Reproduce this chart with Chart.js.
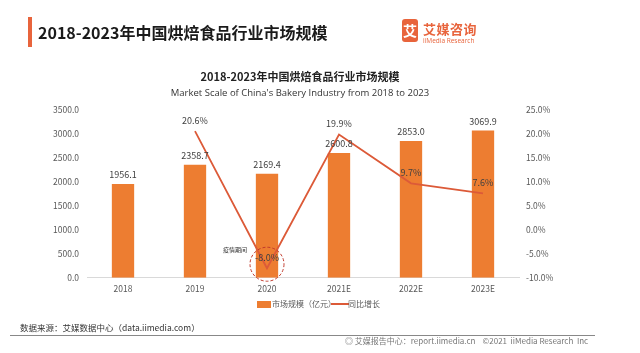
<!DOCTYPE html>
<html><head><meta charset="utf-8">
<script src="https://cdn.jsdelivr.net/npm/chart.js@4.4.1/dist/chart.umd.min.js"></script>
<style>
html,body{margin:0;padding:0;background:#fff;}
#wrap{position:relative;width:640px;height:353px;overflow:hidden;font-family:"Noto Sans CJK SC","Noto Sans",sans-serif;}
#c{position:absolute;left:0;top:0;}
.hbar{position:absolute;left:28px;top:17px;width:4px;height:30px;background:#e8643c;}
.htitle{position:absolute;left:38px;top:20px;font-size:16px;font-weight:bold;color:#1a1a1a;line-height:24px;}
.logo{position:absolute;left:402px;top:19px;width:16px;height:23px;background:#e8643c;border-radius:3px;color:#fff;font-size:14px;font-weight:bold;text-align:center;line-height:23px;}
.logot{position:absolute;left:423px;top:21px;font-size:13px;font-weight:bold;color:#e8643c;line-height:16px;letter-spacing:0.5px;}
.logos{position:absolute;left:423px;top:36px;font-size:6.5px;color:#e8643c;font-family:"Open Sans",sans-serif;}
.ctitle{position:absolute;left:0;width:600px;text-align:center;top:68px;font-size:11px;font-weight:bold;color:#222;}
.csub{position:absolute;left:0;width:600px;text-align:center;top:86px;font-size:9.5px;color:#333;font-family:"Open Sans","Noto Sans",sans-serif;}
.src{position:absolute;left:20px;top:321px;font-size:8.5px;color:#333;}
.fline{position:absolute;left:10px;top:335px;width:585px;height:1px;background:#888;}
.foot{position:absolute;left:345px;top:335px;font-size:8px;color:#777;white-space:nowrap;}
</style></head>
<body><div id="wrap">
<canvas id="c" width="640" height="353"></canvas>
<div class="hbar"></div>
<div class="htitle">2018-2023年中国烘焙食品行业市场规模</div>
<div class="logo">艾</div>
<div class="logot">艾媒咨询</div>
<div class="logos">iiMedia Research</div>
<div class="ctitle">2018-2023年中国烘焙食品行业市场规模</div>
<div class="csub">Market Scale of China's Bakery Industry from 2018 to 2023</div>
<div class="src">数据来源：艾媒数据中心（data.iimedia.com）</div>
<div class="fline"></div>
<div class="foot">◎ 艾媒报告中心：report.iimedia.cn &nbsp;&nbsp; ©2021 &nbsp;iiMedia Research &nbsp;Inc</div>
</div>
<script>
const categories = ['2018','2019','2020','2021E','2022E','2023E'];
const marketSize = [1956.1, 2358.7, 2169.4, 2600.8, 2853.0, 3069.9];
const growthRate = [null, 20.6, -8.0, 19.9, 9.7, 7.6];
const barLabel = '市场规模（亿元）';
const lineLabel = '同比增长';

const BAR = '#ed7d31', LINE = '#dc5a38';
const CJK = '"Noto Sans CJK SC","Noto Sans",sans-serif';

function swatch(w,h,color){const c=document.createElement('canvas');c.width=w;c.height=h;const x=c.getContext('2d');x.fillStyle=color;x.fillRect(0,0,w,h);return c;}

const labelsPlugin = {
  id:'vals',
  afterDatasetsDraw(chart){
    const ctx=chart.ctx;
    ctx.save();
    ctx.font='9px '+CJK;
    ctx.fillStyle='#404040';
    ctx.textAlign='center';ctx.textBaseline='bottom';
    chart.getDatasetMeta(0).data.forEach((el,i)=>{
      ctx.fillText(marketSize[i].toFixed(1), el.x, el.y-5);
    });
    const m1=chart.getDatasetMeta(1).data;
    const p=m1[2];
    ctx.strokeStyle='#c0392b';ctx.setLineDash([3,2]);ctx.lineWidth=1;
    ctx.beginPath();ctx.arc(p.x,p.y-4,17,0,Math.PI*2);ctx.stroke();
    ctx.setLineDash([]);
    ctx.fillStyle='#404040';
    m1.forEach((el,i)=>{
      if(growthRate[i]==null) return;
      ctx.fillText(growthRate[i].toFixed(1)+'%', el.x, el.y-6);
    });
    ctx.font='6px '+CJK;ctx.fillStyle='#333';
    ctx.fillText('疫情期间', p.x-32, p.y-15);
    ctx.restore();
  }
};

new Chart(document.getElementById('c'),{
  data:{
    labels:categories,
    datasets:[
      {type:'bar',label:barLabel,data:marketSize,backgroundColor:BAR,yAxisID:'y',barPercentage:0.62,categoryPercentage:0.5,order:2},
      {type:'line',label:lineLabel,data:growthRate,borderColor:LINE,backgroundColor:LINE,borderWidth:1.8,pointRadius:0,tension:0,yAxisID:'y1',order:1}
    ]
  },
  options:{
    responsive:false,animation:false,
    layout:{padding:{top:110,left:0,right:0,bottom:35}},
    plugins:{
      title:{display:false},
      tooltip:{enabled:false},
      legend:{position:'bottom',labels:{usePointStyle:true,font:{family:CJK,size:8},color:'#595959',padding:0,boxHeight:7,
        generateLabels(chart){
          return [
            {text:barLabel,pointStyle:swatch(14,7,BAR),fillStyle:BAR,strokeStyle:BAR,lineWidth:0,datasetIndex:0,fontColor:'#595959'},
            {text:lineLabel,pointStyle:swatch(18,2,LINE),fillStyle:LINE,strokeStyle:LINE,lineWidth:0,datasetIndex:1,fontColor:'#595959'}
          ];
        }}}
    },
    scales:{
      x:{grid:{display:false,drawTicks:false},border:{display:true,color:'#d9d9d9'},ticks:{font:{family:CJK,size:8.5},color:'#595959',padding:6}},
      y:{position:'left',min:0,max:3500,grid:{display:false,drawTicks:false},border:{display:false},
         ticks:{stepSize:500,font:{family:CJK,size:8.5},color:'#595959',padding:8,callback:v=>v.toFixed(1)},
         afterFit(s){s.width=87;}},
      y1:{position:'right',min:-10,max:25,grid:{display:false,drawTicks:false},border:{display:false},
         ticks:{stepSize:5,font:{family:CJK,size:8.5},color:'#595959',padding:7,callback:v=>v.toFixed(1)+'%'},
         afterFit(s){s.width=121;}}
    }
  },
  plugins:[labelsPlugin]
});
</script>
</body></html>
